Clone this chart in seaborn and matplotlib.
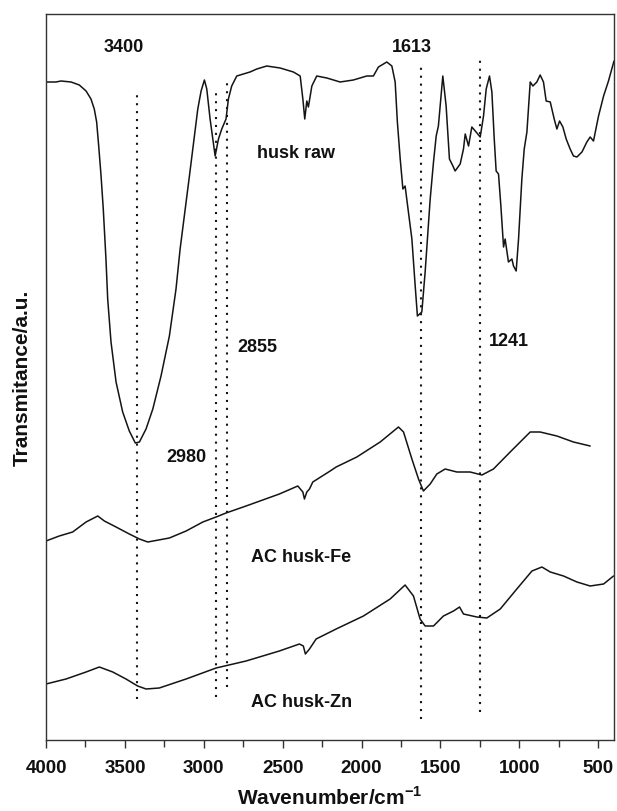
import matplotlib
matplotlib.use("Agg")
import matplotlib.pyplot as plt
import seaborn as sns
import pandas as pd

# ---- data (wavenumber in cm^-1, transmittance in arbitrary units) ----
raw_wn = [4000, 3937, 3905, 3841, 3789, 3746, 3715, 3694, 3679, 3666, 3651, 3637, 3620,
          3609, 3588, 3556, 3514, 3472, 3434, 3408, 3366, 3323, 3271, 3218, 3176, 3150,
          3091, 3038, 3017, 2996, 2981, 2960, 2928, 2907, 2886, 2859, 2844, 2823, 2791,
          2707, 2664, 2601, 2516, 2432, 2389, 2372, 2360, 2347, 2337, 2315, 2284, 2220,
          2136, 2052, 1967, 1925, 1893, 1840, 1808, 1787, 1773, 1755, 1738, 1724, 1703,
          1681, 1660, 1646, 1618, 1597, 1565, 1544, 1527, 1513, 1485, 1464, 1443, 1421,
          1407, 1375, 1354, 1343, 1322, 1301, 1274, 1248, 1227, 1210, 1189, 1174, 1159,
          1147, 1132, 1117, 1100, 1090, 1069, 1047, 1037, 1020, 1005, 984, 969, 952, 931,
          914, 889, 868, 847, 830, 804, 779, 762, 745, 724, 703, 678, 657, 635, 603, 572,
          551, 530, 498, 466, 435, 400]
raw_t = [658, 658, 659, 658, 655, 649, 641, 631, 618, 594, 564, 531, 481,
         441, 398, 358, 328, 309, 297, 298, 311, 331, 364, 404, 451, 491,
         564, 631, 649, 660, 651, 621, 584, 601, 611, 621, 641, 654, 664,
         668, 671, 674, 672, 668, 664, 641, 621, 639, 633, 654, 664, 662,
         658, 660, 664, 664, 673, 678, 674, 658, 618, 581, 551, 554, 528,
         501, 454, 424, 428, 468, 541, 578, 604, 614, 664, 634, 581, 574,
         569, 576, 591, 606, 594, 613, 608, 603, 624, 651, 664, 648, 601,
         569, 566, 534, 493, 501, 478, 481, 474, 469, 501, 561, 591, 608, 658,
         654, 658, 665, 658, 639, 638, 621, 611, 619, 613, 601, 591, 584, 583, 588, 598,
         603, 599, 624, 644, 659, 679]

fe_wn = [4000, 3916, 3831, 3746, 3672, 3630, 3556, 3472, 3408, 3355, 3218, 3112, 3006,
         2922, 2859, 2732, 2521, 2404, 2372, 2362, 2347, 2330, 2309, 2199, 2161, 2030,
         1882, 1766, 1734, 1681, 1639, 1608, 1565, 1523, 1470, 1396, 1312, 1237, 1164,
         1058, 931, 868, 762, 657, 551]
fe_t = [199, 204, 208, 218, 224, 219, 213, 206, 201, 198, 202, 209, 218,
        223, 227, 234, 246, 254, 248, 241, 248, 251, 258, 269, 273, 283,
        298, 313, 308, 281, 261, 249, 256, 266, 271, 268, 268, 265, 271,
        288, 308, 308, 304, 298, 294]

zn_wn = [4000, 3873, 3746, 3662, 3577, 3493, 3419, 3366, 3282, 3112, 2922, 2732, 2521,
         2394, 2369, 2356, 2330, 2288, 2161, 1988, 1819, 1724, 1671, 1629, 1597, 1544,
         1481, 1417, 1379, 1354, 1269, 1206, 1121, 1016, 920, 857, 804, 720, 635, 551,
         466, 403]
zn_t = [56, 61, 68, 73, 68, 61, 54, 51, 52, 61, 72, 79, 89,
        96, 94, 86, 91, 101, 111, 124, 141, 155, 144, 121, 114, 114,
        124, 129, 133, 126, 123, 122, 131, 151, 169, 173, 168, 164, 158, 154,
        156, 164]

band_wn = [3425, 2922, 2854, 1622, 1248]
band_top = [648, 649, 659, 676, 681]
band_bottom = [41, 43, 53, 21, 28]

band_labels = ["3400", "2980", "2855", "1613", "1241"]
band_label_x = [3505, 3112, 2662, 1679, 1064]
band_label_y = [694, 284, 394, 693, 399]

series_names = ["husk raw", "AC husk-Fe", "AC husk-Zn"]
series_label_x = [2418, 2381, 2383]
series_label_y = [588, 183, 38]

x_ticks = [4000, 3500, 3000, 2500, 2000, 1500, 1000, 500]
x_minor = [3750, 3250, 2750, 2250, 1750, 1250, 750]

# ---- styling ----
sns.set_style("ticks")
plt.rcParams["font.family"] = ["Liberation Sans", "DejaVu Sans"]
plt.rcParams["mathtext.fontset"] = "custom"
plt.rcParams["mathtext.rm"] = "Liberation Sans"
plt.rcParams["mathtext.bf"] = "Liberation Sans:bold"

fig = plt.figure(figsize=(6.17, 8.12), dpi=100)
ax = fig.add_axes([46 / 617, 1 - 741 / 812, (614 - 46) / 617, (741 - 15) / 812])

line_color = "#141414"
for wn, t in [(raw_wn, raw_t), (fe_wn, fe_t), (zn_wn, zn_t)]:
    df = pd.DataFrame({"wn": wn, "t": t})
    sns.lineplot(data=df, x="wn", y="t", ax=ax, color=line_color, lw=1.1,
                 estimator=None, sort=False)

for wn, top, bot in zip(band_wn, band_top, band_bottom):
    ax.plot([wn, wn], [bot, top], color=line_color, lw=1.5,
            linestyle=(0, (1, 2.8)))

for lab, lx, ly in zip(band_labels, band_label_x, band_label_y):
    ax.text(lx, ly, lab, ha="center", va="center", fontsize=13, fontweight="bold",
            color="#111111")
for lab, lx, ly in zip(series_names, series_label_x, series_label_y):
    ax.text(lx, ly, lab, ha="center", va="center", fontsize=13, fontweight="bold",
            color="#111111")

ax.set_xlim(4000, 400)
ax.set_ylim(0, 726)
ax.set_xticks(x_ticks)
ax.set_xticks(x_minor, minor=True)
ax.set_xticklabels([str(v) for v in x_ticks], fontsize=13.5, fontweight="bold",
                   color="#111111")
ax.set_yticks([])
ax.tick_params(axis="x", which="major", direction="out", length=6, width=1, pad=8,
               color="#333333")
ax.tick_params(axis="x", which="minor", direction="out", length=5, width=1,
               color="#333333")
for s in ax.spines.values():
    s.set_visible(True)
    s.set_linewidth(1.0)
    s.set_color("#333333")

ax.set_xlabel(r"Wavenumber/cm$^{\mathbf{-1}}$", fontsize=15, fontweight="bold",
              labelpad=6, color="#111111")
ax.set_ylabel("Transmitance/a.u.", fontsize=15, fontweight="bold", labelpad=10,
              color="#111111")

fig.savefig("out.png", dpi=100)
